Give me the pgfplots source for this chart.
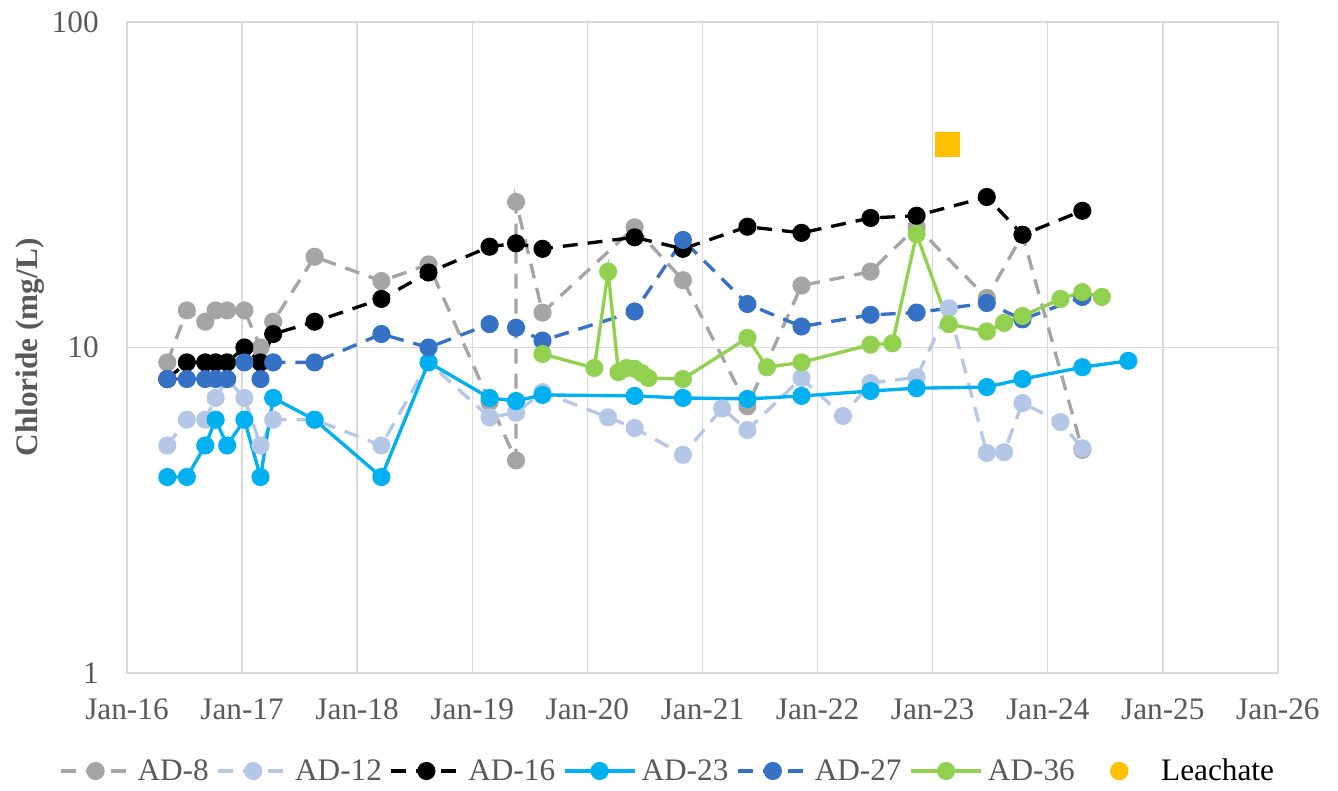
\documentclass[border=0pt]{standalone}
\usepackage{fontspec}
\setmainfont{Liberation Serif}
\usepackage{pgfplots}
\pgfplotsset{compat=1.18}
\usetikzlibrary{calc}

\definecolor{ad8}{HTML}{A5A5A5}
\definecolor{ad12}{HTML}{B4C7E7}
\definecolor{ad23}{HTML}{00B0F0}
\definecolor{ad27}{HTML}{3572C6}
\definecolor{ad36}{HTML}{92D050}
\definecolor{leach}{HTML}{FFC000}
\definecolor{gridc}{HTML}{D9D9D9}
\definecolor{txt}{HTML}{595959}

\begin{document}
\begin{tikzpicture}
\begin{axis}[
  scale only axis, width=23.02cm, height=13.02cm,
  xmin=2016, xmax=2026,
  ymode=log, ymin=1, ymax=100,
  xtick={2016,2017,...,2026},
  xticklabels={Jan-16,Jan-17,Jan-18,Jan-19,Jan-20,Jan-21,Jan-22,Jan-23,Jan-24,Jan-25,Jan-26},
  ytick={1,10,100}, yticklabels={1,10,100},
  grid=major, major grid style={gridc, line width=0.85pt},
  axis line style={gridc, line width=0.85pt},
  major tick length=0pt, minor tick length=0pt,
  font=\fontsize{17.8}{21}\selectfont,
  tick label style={txt, inner sep=0pt},
  xticklabel style={anchor=north, yshift=-0.5cm},
  yticklabel style={anchor=east, xshift=-0.56cm},
  every axis y label/.style={at={(axis description cs:0,0.5)}, xshift=-2.24cm,
    rotate=90, anchor=north, inner sep=0pt, text=txt, font=\fontsize{17.8}{21}\selectfont\bfseries},
  ylabel={Chloride (mg/L)},
  legend columns=7,
  legend style={at={(0.5,0)}, anchor=center, xshift=-0.72cm, yshift=-1.96cm,
    draw=none, fill=none, text=txt, inner sep=0pt, outer sep=0pt,
    nodes={inner sep=0pt}, font=\fontsize{17.8}{21}\selectfont,
    /tikz/every odd column/.append style={column sep=0.105cm},
    /tikz/every even column/.append style={column sep=0.155cm}},
  legend image code/.code={\draw[mark repeat=2, mark phase=2, #1]
    plot coordinates {(0cm,0cm) (0.7cm,0cm) (1.4cm,0cm)};},
  every axis plot/.append style={line width=1.9pt, mark=*, mark size=4.2pt},
]
% AD-8
\addplot[ad8, dash pattern=on 0.3cm off 0.2cm, mark options={solid, fill=ad8}] coordinates {
(2016.35,9) (2016.52,13) (2016.68,12) (2016.77,13) (2016.87,13) (2017.02,13)
(2017.16,10) (2017.27,12) (2017.63,19) (2018.21,16) (2018.62,18) (2019.15,6.8)
(2019.38,4.5) (2019.38,28) (2019.61,12.8) (2020.41,23.4) (2020.83,16.1)
(2021.39,6.6) (2021.86,15.5) (2022.46,17.1) (2022.86,23.5) (2023.47,14.2)
(2023.78,22.2) (2024.30,4.85)};
\addlegendentry{AD-8}
% AD-12
\addplot[ad12, dash pattern=on 0.3cm off 0.2cm, mark options={solid, fill=ad12}] coordinates {
(2016.35,5) (2016.52,6) (2016.68,6) (2016.77,7) (2016.87,8) (2017.02,7) (2017.16,5)
(2017.27,6) (2017.63,6) (2018.21,5) (2018.62,9) (2019.15,6.1) (2019.38,6.3)
(2019.61,7.3) (2020.18,6.1) (2020.41,5.66) (2020.83,4.68) (2021.17,6.5)
(2021.39,5.58) (2021.86,8.06) (2022.22,6.16) (2022.46,7.78) (2022.86,8.1)
(2023.14,13.2) (2023.47,4.74) (2023.62,4.77) (2023.78,6.75) (2024.11,5.9)
(2024.30,4.9)};
\addlegendentry{AD-12}
% AD-16
\addplot[black, dash pattern=on 0.3cm off 0.2cm, mark options={solid, fill=black}] coordinates {
(2016.35,8) (2016.52,9) (2016.68,9) (2016.77,9) (2016.87,9) (2017.02,10) (2017.16,9)
(2017.27,11) (2017.63,12) (2018.21,14.1) (2018.62,17) (2019.15,20.4) (2019.38,20.9)
(2019.61,20.1) (2020.41,21.8) (2020.83,20.1) (2021.39,23.5) (2021.86,22.5)
(2022.46,25) (2022.86,25.4) (2023.47,29) (2023.78,22.2) (2024.30,26.3)};
\addlegendentry{AD-16}
% AD-23
\addplot[ad23, solid, mark options={fill=ad23}] coordinates {
(2016.35,4) (2016.52,4) (2016.68,5) (2016.77,6) (2016.87,5) (2017.02,6) (2017.16,4)
(2017.27,7) (2017.63,6) (2018.21,4) (2018.62,9) (2019.15,7.0) (2019.38,6.85)
(2019.61,7.15) (2020.41,7.1) (2020.83,7.0) (2021.39,6.95) (2021.86,7.1)
(2022.46,7.35) (2022.86,7.5) (2023.47,7.56) (2023.78,8.0) (2024.30,8.7) (2024.70,9.1)};
\addlegendentry{AD-23}
% AD-27
\addplot[ad27, dash pattern=on 0.3cm off 0.2cm, mark options={solid, fill=ad27}] coordinates {
(2016.35,8) (2016.52,8) (2016.68,8) (2016.77,8) (2016.87,8) (2017.02,9) (2017.16,8)
(2017.27,9) (2017.63,9) (2018.21,11) (2018.62,10) (2019.15,11.8) (2019.38,11.5)
(2019.61,10.5) (2020.41,12.9) (2020.83,21.4) (2021.39,13.6) (2021.86,11.6)
(2022.46,12.6) (2022.86,12.8) (2023.47,13.7) (2023.78,12.2) (2024.30,14.3)};
\addlegendentry{AD-27}
% AD-36
\addplot[ad36, solid, mark options={fill=ad36}] coordinates {
(2019.61,9.55) (2020.06,8.65) (2020.18,17.1) (2020.27,8.4) (2020.34,8.65)
(2020.41,8.6) (2020.47,8.35) (2020.53,8.06) (2020.83,8.0) (2021.39,10.7)
(2021.56,8.7) (2021.86,9.0) (2022.46,10.2) (2022.65,10.3) (2022.86,22.3)
(2023.14,11.8) (2023.47,11.2) (2023.62,11.9) (2023.78,12.5) (2024.11,14.1)
(2024.30,14.8) (2024.47,14.3)};
\addlegendentry{AD-36}
% Leachate
\addplot[leach, only marks, mark=square*, mark size=6.2pt, mark options={fill=leach},
  legend image code/.code={\fill[leach] (0.7cm,0cm) circle (0.15cm);
    \path (0cm,0cm) (1.4cm,0cm);}] coordinates {(2023.13,42)};
\addlegendentry{\textcolor{black}{Leachate}}
\end{axis}
\pgfresetboundingbox
\path[use as bounding box] ($(current axis.south west)+(-2.54cm,-2.36cm)$) rectangle ($(current axis.north east)+(1.2cm,0.44cm)$);
\end{tikzpicture}
\end{document}
